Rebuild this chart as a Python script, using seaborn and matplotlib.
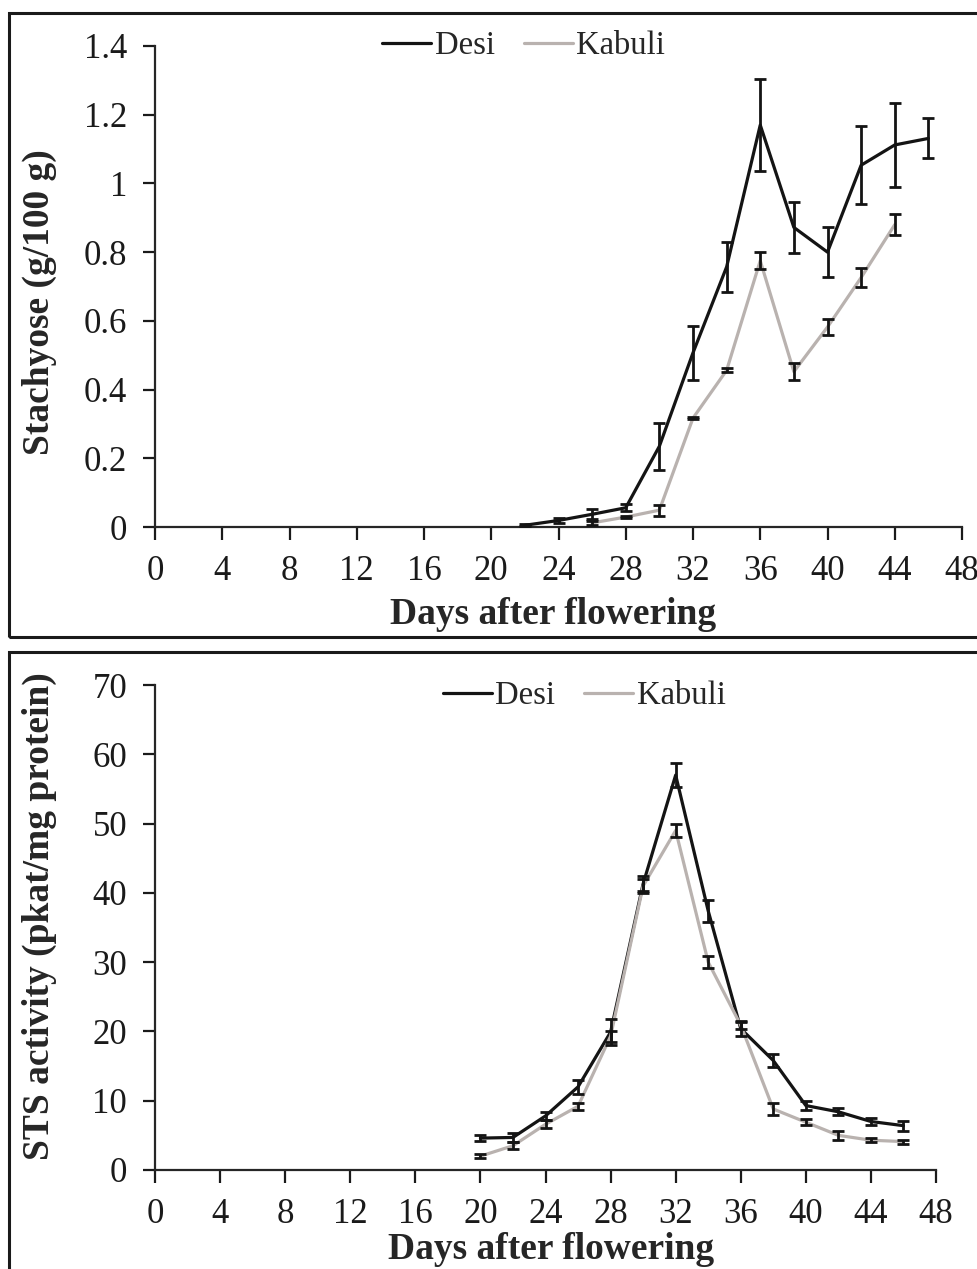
import matplotlib
matplotlib.use("Agg")
import matplotlib.pyplot as plt
from matplotlib.patches import Rectangle
from matplotlib.ticker import FuncFormatter
import numpy as np
import pandas as pd
import seaborn as sns

# stachyose content (g/100 g)
days_stach_desi = [22, 24, 26, 28, 30, 32, 34, 36, 38, 40, 42, 44, 46]
stach_desi = [0.005, 0.019, 0.037, 0.056, 0.235, 0.507, 0.757, 1.170, 0.872, 0.800, 1.053, 1.112, 1.131]
stach_desi_err = [0.003, 0.006, 0.015, 0.010, 0.068, 0.078, 0.073, 0.134, 0.074, 0.073, 0.113, 0.123, 0.058]
days_stach_kab = [26, 28, 30, 32, 34, 36, 38, 40, 42, 44]
stach_kab = [0.012, 0.029, 0.049, 0.317, 0.456, 0.775, 0.452, 0.582, 0.726, 0.880]
stach_kab_err = [0.005, 0.004, 0.016, 0.004, 0.006, 0.025, 0.025, 0.024, 0.028, 0.030]

# STS activity (pkat/mg protein)
days_sts = [20, 22, 24, 26, 28, 30, 32, 34, 36, 38, 40, 42, 44, 46]
sts_desi = [4.6, 4.7, 7.8, 12.0, 19.9, 41.3, 57.0, 37.4, 20.4, 15.8, 9.3, 8.4, 7.0, 6.4]
sts_desi_err = [0.4, 0.6, 0.6, 1.0, 1.9, 1.1, 1.7, 1.6, 1.0, 0.9, 0.6, 0.5, 0.5, 0.7]
sts_kab = [2.0, 3.5, 6.6, 9.2, 19.3, 41.0, 49.0, 30.0, 20.9, 8.8, 6.9, 5.0, 4.3, 4.1]
sts_kab_err = [0.3, 0.5, 0.6, 0.5, 0.8, 1.0, 0.9, 0.9, 0.6, 0.9, 0.4, 0.6, 0.3, 0.3]

x_ticks = list(range(0, 49, 4))
colors = {'Desi': '#141414', 'Kabuli': '#b9b2af'}

sns.set_theme(style='ticks')
plt.rcParams['font.family'] = ['Liberation Serif', 'DejaVu Serif']
plt.rcParams['axes.linewidth'] = 1.6

fig = plt.figure(figsize=(9.77, 12.69), dpi=100)

# panel frames
for y0, h in [(1 - 637 / 1269, (637 - 13) / 1269), (-0.05, 1 - 652 / 1269 + 0.05)]:
    fig.add_artist(Rectangle((9 / 977, y0), 1.0, h, transform=fig.transFigure,
                             fill=False, lw=2.2, ec='#1a1a1a'))

ax1 = fig.add_axes([155 / 977, 1 - 527 / 1269, 807 / 977, 481 / 1269])
ax2 = fig.add_axes([155 / 977, 1 - 1170 / 1269, 781 / 977, 485 / 1269])


def draw(ax, xd, yd, ed, xk, yk, ek):
    df = pd.concat([
        pd.DataFrame({'day': xd, 'val': yd, 'cult': 'Desi'}),
        pd.DataFrame({'day': xk, 'val': yk, 'cult': 'Kabuli'}),
    ])
    sns.lineplot(data=df, x='day', y='val', hue='cult', palette=colors,
                 ax=ax, legend=False, lw=2.3)
    ax.errorbar(xd, yd, yerr=ed, fmt='none', ecolor='#141414', elinewidth=2,
                capsize=4, capthick=2, zorder=3)
    ax.errorbar(xk, yk, yerr=ek, fmt='none', ecolor='#141414', elinewidth=2,
                capsize=4, capthick=2, zorder=3)
    sns.despine(ax=ax)
    ax.set_xlim(0, 48)
    ax.set_xticks(x_ticks)
    ax.tick_params(direction='out', length=9, width=1.6, labelsize=25,
                   colors='#1a1a1a', pad=11)
    ax.set_xlabel('Days after flowering', fontsize=27, fontweight='bold')


draw(ax1, days_stach_desi, stach_desi, stach_desi_err,
     days_stach_kab, stach_kab, stach_kab_err)
ax1.set_ylim(0, 1.4)
ax1.set_yticks(np.arange(0, 1.41, 0.2))
ax1.yaxis.set_major_formatter(FuncFormatter(lambda v, p: '{:g}'.format(round(v, 1))))
ax1.set_ylabel('Stachyose (g/100 g)', fontsize=27, fontweight='bold')
ax1.yaxis.set_label_coords(-0.121, 0.468)
ax1.xaxis.set_label_coords(0.493, -0.1455)

draw(ax2, days_sts, sts_desi, sts_desi_err, days_sts, sts_kab, sts_kab_err)
ax2.set_ylim(0, 70)
ax2.set_yticks(range(0, 71, 10))
ax2.set_ylabel('STS activity (pkat/mg protein)', fontsize=27, fontweight='bold')
ax2.yaxis.set_label_coords(-0.125, 0.524)
ax2.xaxis.set_label_coords(0.507, -0.128)

handles = [plt.Line2D([], [], color=colors[k], lw=2.3) for k in ['Desi', 'Kabuli']]
for ax, pos in [(ax1, (0.536, 1 - 46 / 1269)), (ax2, (0.598, 1 - 696 / 1269))]:
    ax.legend(handles, ['Desi', 'Kabuli'], loc='center', bbox_to_anchor=pos,
              bbox_transform=fig.transFigure, ncol=2, frameon=False, fontsize=23.5,
              handlelength=1.5, handletextpad=0.1, columnspacing=0.9)

fig.savefig('out.png', dpi=100)
